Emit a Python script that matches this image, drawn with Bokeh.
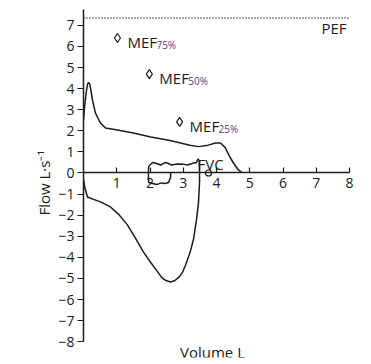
import math
from bokeh.plotting import figure
from bokeh.models import FixedTicker, Label, Range1d, ColumnDataSource, Title
from bokeh.core.properties import value
from bokeh.embed import file_html
from bokeh.resources import INLINE

# ---- data ----
x_ticks = [1, 2, 3, 4, 5, 6, 7, 8]
y_ticks = [7, 6, 5, 4, 3, 2, 1, 0, -1, -2, -3, -4, -5, -6, -7, -8]

# expiratory limb (volume L, flow L/s)
exp_vol = [0.0, 0.03, 0.08, 0.12, 0.15, 0.19, 0.23, 0.27, 0.36, 0.51, 0.66, 1.02, 1.5,
           2.02, 2.53, 2.92, 3.2, 3.46, 3.75, 3.97, 4.12, 4.2, 4.27, 4.34, 4.42, 4.52, 4.66, 4.75]
exp_flow = [2.5, 3.1, 3.8, 4.2, 4.3, 4.2, 3.85, 3.46, 2.84, 2.37, 2.13, 2.04, 1.9,
            1.71, 1.56, 1.42, 1.32, 1.25, 1.32, 1.42, 1.42, 1.3, 1.18, 0.95, 0.71, 0.45, 0.14, 0.05]

# tidal loop + inspiratory limb (one traced path)
loop_vol = [2.62, 2.62, 2.56, 2.45, 2.34, 2.2, 2.08, 1.96, 1.95, 1.96, 2.02, 2.1, 2.22, 2.32,
            2.47, 2.56, 2.63, 2.83, 3.0, 3.13, 3.31, 3.4, 3.44, 3.48, 3.49, 3.49, 3.46, 3.4,
            3.31, 3.2, 3.07, 2.98, 2.88, 2.75, 2.62, 2.48, 2.35, 2.23, 2.0, 1.8, 1.55, 1.32,
            1.05, 0.81, 0.51, 0.3, 0.12, 0.04, 0.0]
loop_flow = [0.0, -0.19, -0.45, -0.5, -0.47, -0.55, -0.5, -0.45, 0.0, 0.3, 0.42, 0.5, 0.44, 0.38,
             0.5, 0.45, 0.38, 0.43, 0.42, 0.38, 0.47, 0.5, 0.66, 0.6, 0.0, -0.43, -1.37, -2.2,
             -3.13, -3.8, -4.36, -4.7, -4.93, -5.1, -5.17, -5.1, -4.95, -4.69, -4.2, -3.74,
             -3.05, -2.46, -1.95, -1.61, -1.37, -1.25, -1.14, -0.7, -0.3]

mef_vol = [1.02, 1.98, 2.89]
mef_flow = [6.4, 4.69, 2.42]
mef_name = ["MEF", "MEF", "MEF"]
mef_sub = ["75%", "50%", "25%"]

fvc_vol = [3.76]
fvc_flow = [0.0]

pef_flow = 7.35
x_max = 8

FONT = "Open Sans"
INK = "#1c1c1c"
SUB = "#5e3a6e"

p = figure(width=371, height=364, x_range=Range1d(0, 8.15), y_range=Range1d(-8.75, 7.8),
           output_backend="svg", toolbar_location=None,
           min_border_left=83, min_border_right=17, min_border_top=8, min_border_bottom=7)
p.grid.visible = False
p.outline_line_color = None
p.background_fill_color = "white"
p.border_fill_color = "white"

# x axis crossing at flow = 0
xa = p.xaxis[0]
xa.fixed_location = 0
xa.bounds = (0, 8)
xa.ticker = FixedTicker(ticks=x_ticks)
xa.major_tick_in = 5
xa.major_tick_out = 0
xa.minor_tick_line_color = None
xa.major_label_standoff = 5
ya = p.yaxis[0]
ya.bounds = (-8, 7.75)
ya.ticker = FixedTicker(ticks=y_ticks)
ya.major_tick_in = 0
ya.major_tick_out = 6
ya.minor_tick_line_color = None
ya.major_label_standoff = 3
for ax in (xa, ya):
    ax.axis_line_color = INK
    ax.axis_line_width = 1.5
    ax.major_tick_line_color = INK
    ax.major_tick_line_width = 1.2
    ax.major_label_text_font = FONT
    ax.major_label_text_font_size = "14px"
    ax.major_label_text_color = INK

# curves
p.line(exp_vol, exp_flow, line_color=INK, line_width=1.5)
p.line(loop_vol, loop_flow, line_color=INK, line_width=1.5)

# PEF dotted line
p.line([0, x_max], [pef_flow, pef_flow], line_color=INK, line_width=1.3, line_dash="1 2")
p.text([x_max], [pef_flow], text=["PEF"], text_align="right", text_baseline="middle",
       x_offset=-3, y_offset=10, text_font=value(FONT), text_font_size="15px", text_color=INK)

# MEF markers and labels
src = ColumnDataSource(dict(x=mef_vol, y=mef_flow, name=mef_name, sub=mef_sub))
p.scatter("x", "y", source=src, marker="diamond", size=9, fill_color="white",
          line_color=INK, line_width=1.2)
p.text("x", "y", text="name", source=src, text_align="left", text_baseline="middle",
       x_offset=10, y_offset=4, text_font=value(FONT), text_font_size="15px", text_color=INK)
p.text("x", "y", text="sub", source=src, text_align="left", text_baseline="middle",
       x_offset=39, y_offset=7, text_font=value(FONT), text_font_size="10px", text_color=SUB)

# FVC
p.scatter(fvc_vol, fvc_flow, marker="circle", size=6, fill_color="white",
          line_color=INK, line_width=1.2)
p.text(fvc_vol, fvc_flow, text=["FVC"], text_align="left", text_baseline="middle",
       x_offset=-11, y_offset=-9, text_font=value(FONT), text_font_size="15px", text_color=INK)

# axis titles
p.add_layout(Title(text="Flow L·s⁻¹", align="center", offset=17, text_font=FONT,
                   text_font_size="15px", text_font_style="normal", text_color=INK,
                   standoff=4), "left")
p.add_layout(Label(x=3.88, y=-8.48, text="Volume L", text_align="center",
                   text_baseline="middle", text_font=FONT, text_font_size="15px",
                   text_color=INK))

open("out.html", "w").write(file_html(p, INLINE))
